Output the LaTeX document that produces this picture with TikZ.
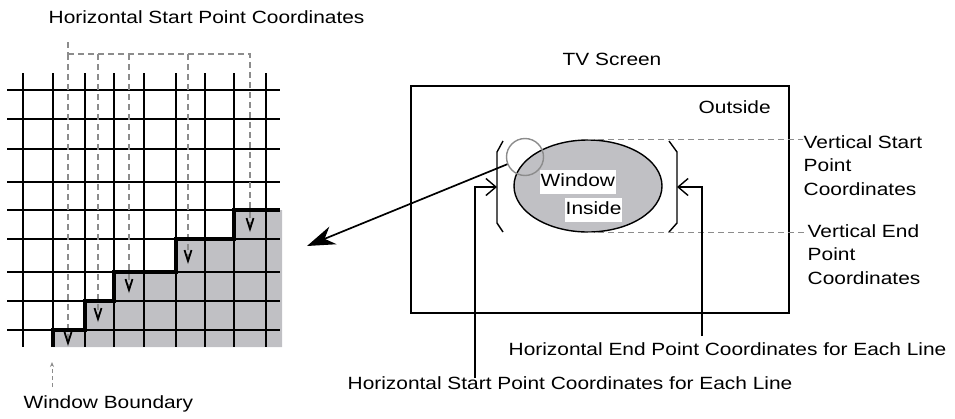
\documentclass[tikz,border=0pt]{standalone}
\usepackage{fontspec}
\setmainfont{Liberation Sans}[FakeStretch=1.18]
\usetikzlibrary{arrows.meta,shapes.geometric}
\definecolor{cellgray}{RGB}{192,192,196}
\definecolor{dashgray}{RGB}{140,140,140}
\tikzset{
  lbl/.style={inner sep=0pt,anchor=base west},
  wlbl/.style={lbl,fill=white,inner xsep=1pt,inner ysep=1.5pt,text height=15pt,text depth=6pt},
  gdash/.style={dashgray,line width=1.1pt,dash pattern=on 6pt off 4pt},
  vtip/.style={-{Straight Barb[color=black,length=11pt,width=7pt,line width=1.8pt]}},
  opentip/.style={-{Straight Barb[length=10pt,width=17pt]}}
}
\begin{document}
\begin{tikzpicture}[x=1pt,y=-1pt,font=\fontsize{17.7}{23.5}\selectfont,line width=1.4pt]
\useasboundingbox (0,0) rectangle (955,418);

\fill[cellgray] (53,347) -- (53,330) -- (85,330) -- (85,301) -- (114,301) -- (114,272) -- (176,272)
  -- (176,239) -- (234,239) -- (234,210) -- (282,210) -- (282,347) -- cycle;
\foreach \y in {90,119,149,182,210,239,272,301,330}
  \draw (7,\y) -- (280,\y);
\foreach \x in {23,53,85,114,144,176,205,234,266}
  \draw (\x,73) -- (\x,347);

\node[lbl] (htitle) at (48,23) {Horizontal Start Point Coordinates};
\coordinate (v1) at (68,346);
\coordinate (v2) at (98,322);
\coordinate (v3) at (129,293);
\coordinate (v4) at (188,264);
\coordinate (v5) at (250,232);
\draw[gdash] (68,42) -- (68,54);
\draw[gdash,vtip] (68,54) -- (v1);
\draw[gdash,vtip] (68,54) -| (v5);
\foreach \v in {v2,v3,v4}
  \draw[gdash,vtip] (\v |- 0,54) -- (\v);

\draw[line width=4pt] (53,347) -- (53,330) -- (85,330) -- (85,301) -- (114,301) -- (114,272) -- (176,272)
  -- (176,239) -- (234,239) -- (234,210) -- (280,210);

\node[lbl] (wbound) at (23,408) {Window Boundary};
\coordinate (wb0) at (52,387);
\coordinate (wb1) at (52,362);
\draw[dashgray,line width=0.8pt,dash pattern=on 4pt off 3pt,-{Stealth[length=5pt,width=4pt]}] (wb0) -- (wb1);

\node[lbl] (tv) at (562,65) {TV Screen};
\node[draw,minimum width=378pt,minimum height=227pt,inner sep=0pt] (screen) at (600,199.5) {};
\node[lbl] (outside) at (698,113) {Outside};

\node[ellipse,draw,fill=cellgray,minimum width=148pt,minimum height=92pt,inner sep=0pt] (win) at (588,186) {};
\node[wlbl] (wtext) at (539,186) {Window};
\node[wlbl] (itext) at (564,214) {Inside};
\node[circle,draw=dashgray,minimum size=37pt,inner sep=0pt] (lens) at (525,157) {};

\draw (503,141) -- (497,152) -- (497,223) -- (503,232);
\draw (669,141) -- (677,152) -- (677,223) -- (669,232);

\node[lbl,align=left] (vsp) at (803,195) {Vertical Start\\Point\\Coordinates};
\node[lbl,align=left] (vep) at (807,284) {Vertical End\\Point\\Coordinates};
\draw[gdash] (win.north) -- (win.north -| vsp.west);
\draw[gdash] (win.south) -- (win.south -| vep.west);

\coordinate (gtip) at (307,246);
\draw[line width=1.7pt,-{Stealth[length=28pt,width=19pt,inset=9pt]}] (lens) -- (gtip);

\node[lbl] (hel) at (508,355) {Horizontal End Point Coordinates for Each Line};
\node[lbl] (hsl) at (347,389) {Horizontal Start Point Coordinates for Each Line};
\coordinate (hs0) at (475,378);
\coordinate (he0) at (702,336);
\coordinate (lbr) at (497,187);
\coordinate (rbr) at (677,187);
\draw[opentip] (hs0) |- (lbr);
\draw[opentip] (he0) |- (rbr);
\end{tikzpicture}
\end{document}
